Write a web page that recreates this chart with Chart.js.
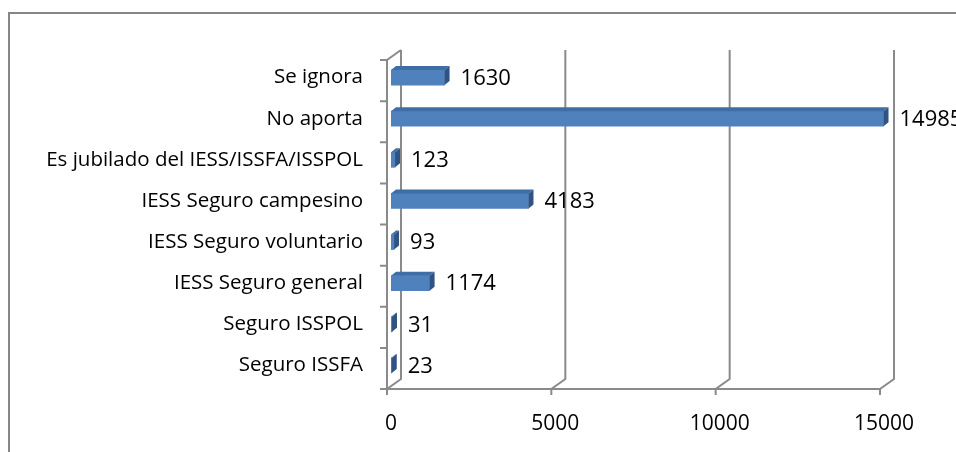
<!DOCTYPE html>
<html>
<head>
<meta charset="utf-8">
<script src="https://cdn.jsdelivr.net/npm/chart.js@4.4.1/dist/chart.umd.min.js"></script>
<style>
  html, body { margin: 0; padding: 0; background: #fff; }
</style>
</head>
<body>
<canvas id="aporte-chart" width="956" height="452"></canvas>
<script>
// Datos
const categories = ['Se ignora', 'No aporta', 'Es jubilado del IESS/ISSFA/ISSPOL', 'IESS Seguro campesino',
  'IESS Seguro voluntario', 'IESS Seguro general', 'Seguro ISSPOL', 'Seguro ISSFA'];
const values = [1630, 14985, 123, 4183, 93, 1174, 31, 23];
const xTicks = [0, 5000, 10000, 15000];

const FONT = '"Open Sans", sans-serif';
const GRID = '#8a8a8a';
// desplazamiento 3D respecto al plano de las barras
const front = { x: -4, y: 3 };
const back = { x: 10, y: -7 };
const depth = { x: 5, y: -4 };

// Marco exterior
const borderPlugin = {
  id: 'border',
  beforeDraw(chart) {
    const ctx = chart.ctx;
    ctx.save();
    ctx.strokeStyle = '#868686';
    ctx.lineWidth = 2;
    ctx.beginPath();
    ctx.moveTo(9, 460);
    ctx.lineTo(9, 13);
    ctx.lineTo(960, 13);
    ctx.stroke();
    ctx.restore();
  }
};

// Paredes, piso y lineas de division en 3D
const wallsPlugin = {
  id: 'walls',
  beforeDatasetsDraw(chart) {
    const ctx = chart.ctx;
    const xs = chart.scales.x;
    const top = chart.chartArea.top, bottom = chart.chartArea.bottom;
    const left = xs.getPixelForValue(0), right = xs.getPixelForValue(15000);
    ctx.save();
    ctx.strokeStyle = GRID;
    ctx.lineWidth = 2;
    ctx.beginPath();
    xTicks.forEach(v => {
      const px = xs.getPixelForValue(v);
      ctx.moveTo(px + back.x, top + back.y);
      ctx.lineTo(px + back.x, bottom + back.y);
      ctx.lineTo(px + front.x, bottom + front.y);
      ctx.lineTo(px + front.x, bottom + front.y + 6);
    });
    // piso frontal
    ctx.moveTo(left + front.x, bottom + front.y);
    ctx.lineTo(right + front.x, bottom + front.y);
    // pared izquierda frontal
    ctx.moveTo(left + back.x, top + back.y);
    ctx.lineTo(left + front.x, top + front.y);
    ctx.lineTo(left + front.x, bottom + front.y);
    // marcas del eje de categorias
    const n = categories.length;
    for (let i = 0; i <= n; i++) {
      const py = top + (bottom - top) * i / n + front.y;
      ctx.moveTo(left + front.x, py);
      ctx.lineTo(left + front.x - 7, py);
    }
    ctx.stroke();
    ctx.restore();
  },
  afterDatasetsDraw(chart) {
    const ctx = chart.ctx;
    const meta = chart.getDatasetMeta(0);
    ctx.save();
    meta.data.forEach((bar, i) => {
      const t = bar.y - bar.height / 2, b = bar.y + bar.height / 2;
      // cara superior
      ctx.fillStyle = '#3f6ea6';
      ctx.beginPath();
      ctx.moveTo(bar.base, t);
      ctx.lineTo(bar.x, t);
      ctx.lineTo(bar.x + depth.x, t + depth.y);
      ctx.lineTo(bar.base + depth.x, t + depth.y);
      ctx.closePath();
      ctx.fill();
      // cara lateral
      ctx.fillStyle = '#2f5383';
      ctx.beginPath();
      ctx.moveTo(bar.x, t);
      ctx.lineTo(bar.x + depth.x, t + depth.y);
      ctx.lineTo(bar.x + depth.x, b + depth.y);
      ctx.lineTo(bar.x, b);
      ctx.closePath();
      ctx.fill();
      // etiqueta de valor
      ctx.fillStyle = '#000';
      ctx.font = '22px ' + FONT;
      ctx.textAlign = 'left';
      ctx.textBaseline = 'middle';
      ctx.fillText(String(values[i]), bar.x + 16, bar.y + 1);
    });
    ctx.restore();
  }
};

const ctx = document.getElementById('aporte-chart').getContext('2d');
const aporteChart = new Chart(ctx, {
  type: 'bar',
  data: {
    labels: categories,
    datasets: [{
      data: values,
      backgroundColor: '#4f81bd',
      barThickness: 15
    }]
  },
  options: {
    indexAxis: 'y',
    responsive: false,
    animation: false,
    devicePixelRatio: 1,
    layout: { padding: { left: 10, right: 72, top: 57, bottom: 0 } },
    scales: {
      x: {
        min: 0,
        max: 15000,
        afterBuildTicks(scale) { scale.ticks = xTicks.map(v => ({ value: v })); },
        afterFit(scale) { scale.height = 66; },
        grid: { display: false, drawTicks: false },
        border: { display: false },
        ticks: {
          color: '#000', padding: 25, font: { family: FONT, size: 21 },
          callback: v => String(v)
        }
      },
      y: {
        afterFit(scale) { scale.width = 381; },
        grid: { display: false, drawTicks: false },
        border: { display: false },
        ticks: { color: '#000', padding: 28, font: { family: FONT, size: 20.5 } }
      }
    },
    plugins: {
      legend: { display: false },
      tooltip: { enabled: false }
    }
  },
  plugins: [borderPlugin, wallsPlugin]
});
</script>
</body>
</html>
